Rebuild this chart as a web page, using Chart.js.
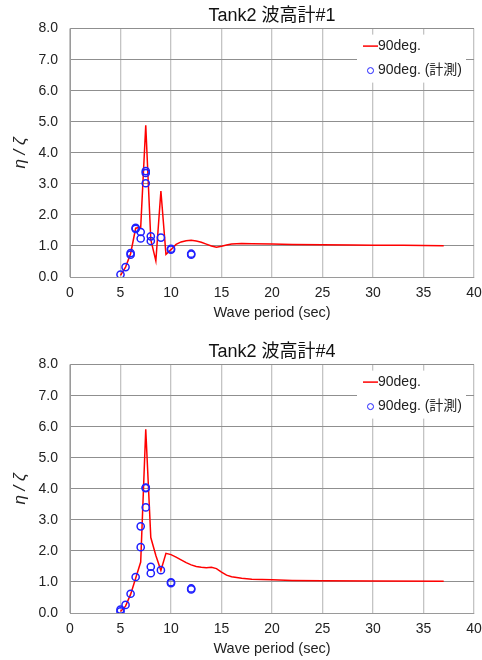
<!DOCTYPE html>
<html>
<head>
<meta charset="utf-8">
<script src="https://cdn.jsdelivr.net/npm/chart.js@4/dist/chart.umd.min.js"></script>
<style>
  html, body { margin: 0; padding: 0; background: #fff; }
  .box { position: absolute; left: 0; width: 482px; height: 324px; }
  #box1 { top: 0; }
  #box2 { top: 336px; }
</style>
</head>
<body>
<div class="box" id="box1"><canvas id="chart1"></canvas></div>
<div class="box" id="box2"><canvas id="chart2"></canvas></div>
<script>
// 波高計#1 計算値 (90deg.)
const period1Calc = [5.0, 5.5, 6.0, 6.5, 7.0, 7.5, 8.0, 8.5, 9.0, 9.5, 10.0, 10.5, 11.0, 11.5, 12.0, 12.5, 13.0, 13.5, 14.0, 14.5, 15.0, 15.5, 16.0, 17.0, 18.0, 20.0, 22.0, 25.0, 28.0, 30.0, 33.0, 37.0];
const ratio1Calc  = [0.05, 0.32, 0.75, 1.57, 1.60, 4.89, 1.20, 0.52, 2.77, 0.73, 0.88, 1.05, 1.13, 1.17, 1.18, 1.16, 1.12, 1.06, 1.00, 0.96, 0.99, 1.03, 1.06, 1.08, 1.07, 1.06, 1.05, 1.04, 1.03, 1.02, 1.02, 1.01];
// 波高計#1 計測値
const period1Meas = [5.0, 5.5, 6.0, 6.0, 6.5, 6.5, 7.0, 7.0, 7.5, 7.5, 7.5, 8.0, 8.0, 9.0, 10.0, 10.0, 12.0, 12.0];
const ratio1Meas  = [0.08, 0.32, 0.77, 0.72, 1.58, 1.55, 1.45, 1.24, 3.41, 3.35, 3.02, 1.31, 1.16, 1.27, 0.91, 0.88, 0.75, 0.72];

// 波高計#4 計算値 (90deg.)
const period4Calc = [5.0, 5.5, 6.0, 6.5, 7.0, 7.5, 8.0, 8.5, 9.0, 9.5, 10.0, 10.5, 11.0, 11.5, 12.0, 12.5, 13.0, 13.5, 14.0, 14.5, 15.0, 15.5, 16.0, 17.0, 18.0, 20.0, 22.0, 25.0, 30.0, 37.0];
const ratio4Calc  = [0.05, 0.22, 0.60, 1.12, 1.64, 5.92, 2.43, 1.85, 1.37, 1.92, 1.88, 1.80, 1.71, 1.62, 1.55, 1.50, 1.47, 1.46, 1.47, 1.43, 1.32, 1.22, 1.17, 1.12, 1.09, 1.07, 1.05, 1.04, 1.03, 1.02];
// 波高計#4 計測値
const period4Meas = [5.0, 5.0, 5.5, 6.0, 6.5, 7.0, 7.0, 7.5, 7.5, 7.5, 8.0, 8.0, 9.0, 10.0, 10.0, 12.0, 12.0];
const ratio4Meas  = [0.05, 0.11, 0.26, 0.62, 1.16, 2.12, 2.79, 3.40, 4.04, 4.02, 1.49, 1.28, 1.38, 0.99, 0.96, 0.79, 0.76];

const xTicks = [0, 5, 10, 15, 20, 25, 30, 35, 40];
const yTicks = [0, 1, 2, 3, 4, 5, 6, 7, 8];

const calcLabel = '90deg.';
const measLabel = '90deg. (計測)';
const FONT = "'Liberation Sans', Arial, 'Noto Sans CJK JP', sans-serif";
const RED = '#ff0000';
const BLUE = '#2020ff';

function zip(xs, ys) {
    return xs.map((x, i) => ({ x: x, y: ys[i] }));
}

// 凡例をプロット内の右上に描く
const insideLegend = {
    id: 'insideLegend',
    afterDatasetsDraw(chart) {
        const ctx = chart.ctx;
        const a = chart.chartArea;
        ctx.save();
        ctx.fillStyle = '#fff';
        ctx.fillRect(a.right - 117, a.top + 6, 109, 48);
        ctx.font = '14px ' + FONT;
        ctx.textBaseline = 'middle';
        ctx.textAlign = 'left';
        // 計算値
        ctx.strokeStyle = RED;
        ctx.lineWidth = 1.5;
        ctx.beginPath();
        ctx.moveTo(a.right - 111, a.top + 17.5);
        ctx.lineTo(a.right - 96, a.top + 17.5);
        ctx.stroke();
        ctx.fillStyle = '#222';
        ctx.fillText(calcLabel, a.right - 96, a.top + 17.5);
        // 計測値
        ctx.strokeStyle = BLUE;
        ctx.lineWidth = 1;
        ctx.beginPath();
        ctx.arc(a.right - 103.5, a.top + 42, 3, 0, Math.PI * 2);
        ctx.stroke();
        ctx.fillText(measLabel, a.right - 96, a.top + 42);
        ctx.restore();
    }
};

function crearGrafico(id, titulo, pCalc, rCalc, pMeas, rMeas) {
    const ctx = document.getElementById(id).getContext('2d');
    return new Chart(ctx, {
        type: 'scatter',
        data: {
            datasets: [{
                label: measLabel,
                data: zip(pMeas, rMeas),
                showLine: false,
                pointStyle: 'circle',
                pointRadius: 3.6,
                pointBorderWidth: 1.5,
                pointBorderColor: BLUE,
                pointBackgroundColor: 'rgba(0,0,0,0)'
            }, {
                label: calcLabel,
                data: zip(pCalc, rCalc),
                showLine: true,
                borderColor: RED,
                borderWidth: 1.5,
                pointRadius: 0,
                tension: 0
            }]
        },
        options: {
            responsive: true,
            maintainAspectRatio: false,
            animation: false,
            events: [],
            layout: { padding: { left: 0, right: 8, top: 0, bottom: 0 } },
            plugins: {
                legend: { display: false },
                tooltip: { enabled: false },
                title: {
                    display: true,
                    text: titulo,
                    fullSize: false,
                    color: '#111',
                    font: { family: FONT, size: 18, weight: 'normal' },
                    padding: { top: 5, bottom: 2 }
                }
            },
            scales: {
                x: {
                    type: 'linear',
                    min: 0,
                    max: 40,
                    afterBuildTicks: s => { s.ticks = xTicks.map(v => ({ value: v })); },
                    afterFit: s => { s.height = 47; s.paddingLeft = 0; s.paddingRight = 0; },
                    grid: { color: '#c4c4c4', lineWidth: 1.3, drawTicks: false },
                    border: { color: '#9a9a9a', width: 1 },
                    ticks: { color: '#222', padding: 8, maxRotation: 0, font: { family: FONT, size: 14 } },
                    title: {
                        display: true,
                        text: 'Wave period (sec)',
                        color: '#222',
                        font: { family: FONT, size: 14.5 },
                        padding: { top: 0, bottom: 2 }
                    }
                },
                y: {
                    type: 'linear',
                    min: 0,
                    max: 8,
                    afterBuildTicks: s => { s.ticks = yTicks.map(v => ({ value: v })); },
                    afterFit: s => { s.width = 70; },
                    grid: { color: '#8f8f8f', lineWidth: 1, drawTicks: false },
                    border: { color: '#9a9a9a', width: 1 },
                    ticks: {
                        color: '#222',
                        padding: 12,
                        font: { family: FONT, size: 14 },
                        callback: v => v.toFixed(1)
                    },
                    title: {
                        display: true,
                        text: 'η / ζ',
                        color: '#222',
                        font: { family: FONT, size: 17, style: 'italic' },
                        padding: { top: 10, bottom: 0 }
                    }
                }
            }
        },
        plugins: [insideLegend]
    });
}

window.grafico1 = crearGrafico('chart1', 'Tank2 波高計#1', period1Calc, ratio1Calc, period1Meas, ratio1Meas);
window.grafico4 = crearGrafico('chart2', 'Tank2 波高計#4', period4Calc, ratio4Calc, period4Meas, ratio4Meas);
</script>
</body>
</html>
